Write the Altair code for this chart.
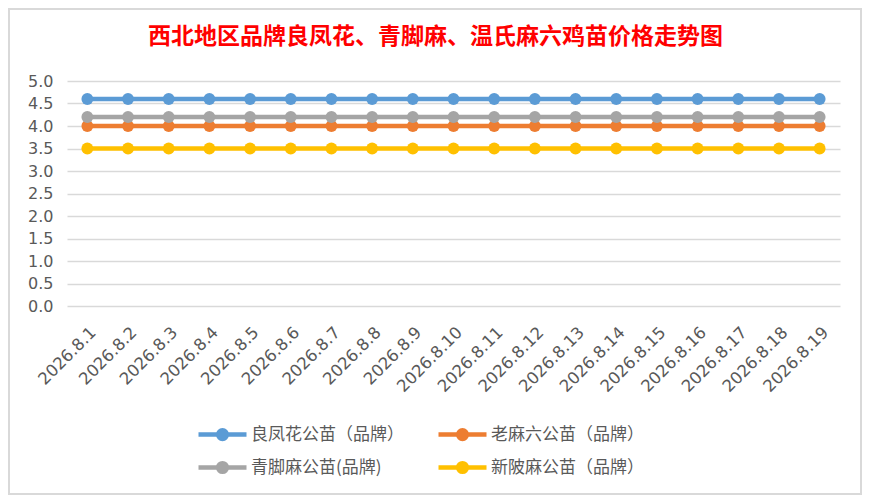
import altair as alt
import pandas as pd

dates = ["2026.8.1", "2026.8.2", "2026.8.3", "2026.8.4", "2026.8.5", "2026.8.6",
         "2026.8.7", "2026.8.8", "2026.8.9", "2026.8.10", "2026.8.11", "2026.8.12",
         "2026.8.13", "2026.8.14", "2026.8.15", "2026.8.16", "2026.8.17", "2026.8.18",
         "2026.8.19"]

series_names = ["良凤花公苗（品牌）", "老麻六公苗（品牌）", "青脚麻公苗(品牌)", "新陂麻公苗（品牌）"]
series_colors = ["#5B9BD5", "#ED7D31", "#A5A5A5", "#FFC000"]

liangfenghua = [4.6, 4.6, 4.6, 4.6, 4.6, 4.6, 4.6, 4.6, 4.6, 4.6, 4.6, 4.6, 4.6, 4.6, 4.6, 4.6, 4.6, 4.6, 4.6]
lamaliu = [4.0, 4.0, 4.0, 4.0, 4.0, 4.0, 4.0, 4.0, 4.0, 4.0, 4.0, 4.0, 4.0, 4.0, 4.0, 4.0, 4.0, 4.0, 4.0]
qingjiaoma = [4.2, 4.2, 4.2, 4.2, 4.2, 4.2, 4.2, 4.2, 4.2, 4.2, 4.2, 4.2, 4.2, 4.2, 4.2, 4.2, 4.2, 4.2, 4.2]
xinpima = [3.5, 3.5, 3.5, 3.5, 3.5, 3.5, 3.5, 3.5, 3.5, 3.5, 3.5, 3.5, 3.5, 3.5, 3.5, 3.5, 3.5, 3.5, 3.5]

y_ticks = [0.0, 0.5, 1.0, 1.5, 2.0, 2.5, 3.0, 3.5, 4.0, 4.5, 5.0]

title_text = "西北地区品牌良凤花、青脚麻、温氏麻六鸡苗价格走势图"

rows = []
for name, vals in zip(series_names, [liangfenghua, lamaliu, qingjiaoma, xinpima]):
    for d, v in zip(dates, vals):
        rows.append({"date": d, "series": name, "price": v})
df = pd.DataFrame(rows)

sym = ("M-2,0L2,0"
       "M0.36,0A0.36,0.36,0,1,1,-0.36,0A0.36,0.36,0,1,1,0.36,0"
       "M0.14,0A0.14,0.14,0,1,1,-0.14,0A0.14,0.14,0,1,1,0.14,0")

lines = alt.Chart(df).mark_line(
    strokeWidth=4.5,
    point=alt.OverlayMarkDef(size=140, filled=True, opacity=1),
).encode(
    x=alt.X("date:N", sort=dates, title=None,
            scale=alt.Scale(type="point", padding=0.5),
            axis=alt.Axis(labelAngle=-45, labelFont="DejaVu Sans", labelFontSize=16.5,
                          labelColor="#595959", domain=False, ticks=False,
                          labelPadding=18, grid=False)),
    y=alt.Y("price:Q", title=None,
            scale=alt.Scale(domain=[0, 5], nice=False, zero=True),
            axis=alt.Axis(values=y_ticks, format=".1f", labelFont="DejaVu Sans",
                          labelFontSize=16, labelColor="#595959", domain=False,
                          ticks=False, labelPadding=14, grid=True,
                          gridColor="#D9D9D9", gridWidth=1.5)),
    color=alt.Color("series:N", sort=series_names,
                    scale=alt.Scale(domain=series_names, range=series_colors),
                    legend=alt.Legend(title=None, orient="none", legendX=141, legendY=339,
                                      direction="horizontal",
                                      columns=2, columnPadding=25, rowPadding=5,
                                      symbolType=sym, symbolSize=576, symbolStrokeWidth=4.5,
                                      labelFont="Noto Sans CJK SC", labelFontSize=17,
                                      labelColor="#595959", labelOffset=14,
                                      labelLimit=400, padding=0)),
)

frame = alt.Chart(alt.Data(values=[{}])).mark_rect(
    filled=False, stroke="#D9D9D9", strokeWidth=2
).encode(
    x=alt.value(-58), x2=alt.value(794), y=alt.value(-72), y2=alt.value(413)
)

chart = alt.layer(lines, frame).properties(
    width=773,
    height=225,
    padding={"left": 59, "top": 73, "right": 22, "bottom": 189},
    autosize=alt.AutoSizeParams(type="none"),
    background="white",
    title=alt.TitleParams(title_text, color="#FF0000", font="Noto Sans CJK SC",
                          fontSize=23, fontWeight="bold", anchor="middle",
                          frame="group", offset=-41, dx=-18),
).configure_view(stroke=None)

chart.save("out.html", embed_options={"renderer": "svg", "actions": False})
